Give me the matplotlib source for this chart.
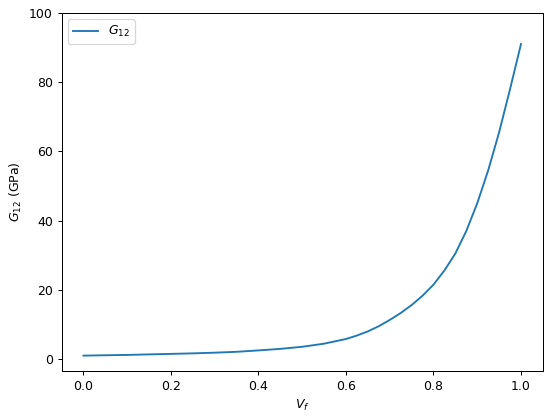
import numpy as np
import matplotlib
matplotlib.use("Agg")
import matplotlib.pyplot as plt

# fibre volume fraction and shear modulus
vf = [0.00, 0.05, 0.10, 0.15, 0.20, 0.25, 0.30, 0.35, 0.40, 0.45, 0.50,
      0.55, 0.60, 0.625, 0.65, 0.675, 0.70, 0.725, 0.75, 0.775, 0.80,
      0.825, 0.85, 0.875, 0.90, 0.925, 0.95, 0.975, 1.00]
g12 = [1.0, 1.1, 1.2, 1.35, 1.5, 1.65, 1.85, 2.1, 2.5, 2.95, 3.55,
       4.45, 5.8, 6.8, 8.0, 9.5, 11.3, 13.3, 15.6, 18.3, 21.5,
       25.6, 30.5, 37.0, 45.0, 54.5, 65.5, 78.0, 91.0]

fig, ax = plt.subplots(figsize=(550 / 90, 418 / 90), dpi=90)
fig.subplots_adjust(left=0.112, right=0.987, top=0.969, bottom=0.112)

ax.plot(vf, g12, label="$G_{12}$")
ax.set_xlabel("$V_f$")
ax.set_ylabel("$G_{12}$ (GPa)")
ax.set_ylim(top=100)
ax.legend(loc="upper left")

fig.savefig("out.png")
